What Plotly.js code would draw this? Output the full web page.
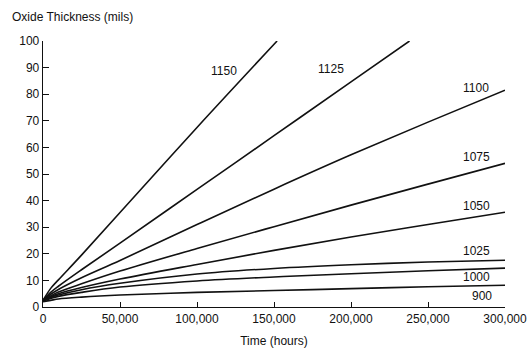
<!DOCTYPE html>
<html>
<head>
<meta charset="utf-8">
<script src="https://cdn.plot.ly/plotly-3.0.1.min.js"></script>
<style>
html,body{margin:0;padding:0;background:#fff;}
#chart{width:531px;height:352px;}
</style>
</head>
<body>
<div id="chart"></div>
<script>
// Time (hours)
const tGrid = [0, 5000, 10000, 25000, 50000, 100000, 150000, 200000, 250000, 300000];
const t1150 = [0, 5000, 10000, 25000, 50000, 100000, 152000];
const t1125 = [0, 5000, 10000, 25000, 50000, 100000, 150000, 200000, 238000];

// Oxide thickness (mils) per temperature curve
const v1150 = [2.5, 7, 10.2, 19.5, 35.5, 67.5, 100];
const v1125 = [2.5, 5.5, 7.8, 14, 24, 44.2, 64.4, 84.6, 100];
const v1100 = [2.5, 4.8, 6.6, 11, 17.5, 31, 44.3, 57.2, 69.5, 81.5];
const v1075 = [2.5, 4.2, 5.6, 8.7, 13.5, 22, 30.2, 38.3, 46.2, 54];
const v1050 = [2.5, 3.9, 5, 7.3, 10.5, 16, 21.3, 26.3, 31, 35.6];
const v1025 = [2.5, 3.6, 4.5, 6.5, 8.9, 12.4, 14.5, 15.9, 16.9, 17.6];
const v1000 = [2.2, 3.2, 4, 5.5, 7.5, 9.8, 11.3, 12.5, 13.6, 14.6];
const v900  = [2, 2.5, 3, 3.7, 4.5, 5.5, 6.2, 6.9, 7.6, 8.2];

const curveLabels = ["1150", "1125", "1100", "1075", "1050", "1025", "1000", "900"];
const labelT = [117500, 186800, 281000, 281600, 281600, 281600, 281600, 284900];
const labelV = [88.7, 89.4, 82.2, 56.5, 38, 21.2, 11.4, 4.1];

const xTicks = [0, 50000, 100000, 150000, 200000, 250000, 300000];
const yTicks = [0, 10, 20, 30, 40, 50, 60, 70, 80, 90, 100];

const series = [
  [t1150, v1150], [t1125, v1125], [tGrid, v1100], [tGrid, v1075],
  [tGrid, v1050], [tGrid, v1025], [tGrid, v1000], [tGrid, v900]
];

const traces = series.map((s, i) => ({
  x: s[0], y: s[1], type: 'scatter', mode: 'lines',
  line: {color: '#111', width: 1.6, shape: 'spline', smoothing: 1},
  name: curveLabels[i], showlegend: false, hoverinfo: 'skip'
}));

const fnt = {family: 'Arial, "Liberation Sans", Helvetica, sans-serif', size: 12, color: '#111'};

const annotations = curveLabels.map((lab, i) => ({
  x: labelT[i], y: labelV[i], xref: 'x', yref: 'y', text: lab,
  showarrow: false, font: fnt, xanchor: 'center', yanchor: 'middle'
}));
annotations.push({
  x: (10 - 43) / 462, y: (307 - 17) / 266, xref: 'paper', yref: 'paper',
  text: 'Oxide Thickness (mils)',
  showarrow: false, font: fnt, xanchor: 'left', yanchor: 'middle'
});

const layout = {
  width: 531, height: 352,
  margin: {l: 43, r: 26, t: 41, b: 45, pad: 0},
  paper_bgcolor: '#fff', plot_bgcolor: '#fff',
  font: fnt,
  separators: '.,',
  xaxis: {
    range: [0, 300000], tickvals: xTicks, tickformat: ',d',
    showgrid: false, zeroline: false, showline: true, linecolor: '#111', linewidth: 1.3,
    ticks: 'inside', ticklen: 5, tickcolor: '#111', tickwidth: 1,
    tickfont: fnt,
    title: {text: 'Time (hours)', font: fnt, standoff: 12}
  },
  yaxis: {
    range: [0, 100], tickvals: yTicks,
    showgrid: false, zeroline: false, showline: true, linecolor: '#111', linewidth: 1.3,
    ticks: 'inside', ticklen: 6, tickcolor: '#111', tickwidth: 1,
    tickfont: fnt
  },
  annotations: annotations
};

Plotly.newPlot('chart', traces, layout, {staticPlot: true, displayModeBar: false});
</script>
</body>
</html>
